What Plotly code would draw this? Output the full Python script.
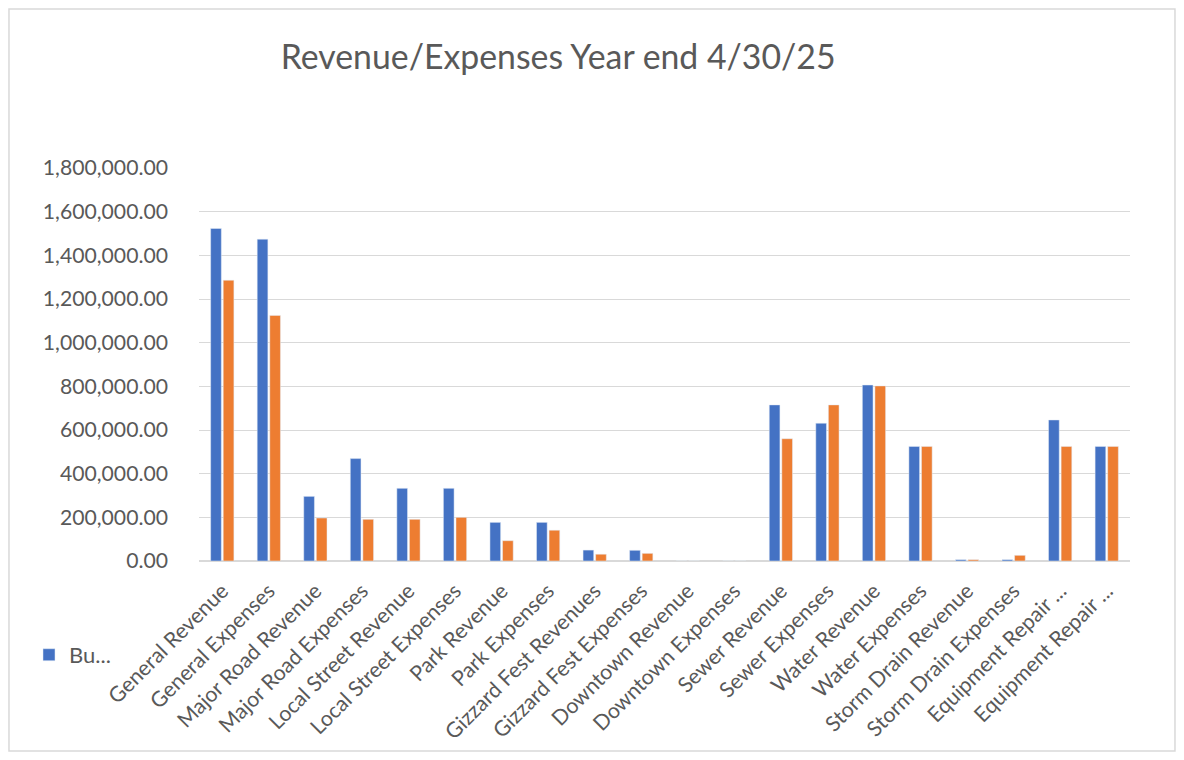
import plotly.graph_objects as go

categories = [
    "General Revenue", "General Expenses", "Major Road Revenue", "Major Road Expenses",
    "Local Street Revenue", "Local Street Expenses", "Park Revenue", "Park Expenses",
    "Gizzard Fest Revenues", "Gizzard Fest Expenses", "Downtown Revenue", "Downtown Expenses",
    "Sewer Revenue", "Sewer Expenses", "Water Revenue", "Water Expenses",
    "Storm Drain Revenue", "Storm Drain Expenses", "Equipment Repair Revenue", "Equipment Repair Expenses",
]
tick_labels = [
    "General Revenue", "General Expenses", "Major Road Revenue", "Major Road Expenses",
    "Local Street Revenue", "Local Street Expenses", "Park Revenue", "Park Expenses",
    "Gizzard Fest Revenues", "Gizzard Fest Expenses", "Downtown Revenue", "Downtown Expenses",
    "Sewer Revenue", "Sewer Expenses", "Water Revenue", "Water Expenses",
    "Storm Drain Revenue", "Storm Drain Expenses", "Equipment Repair ...", "Equipment Repair ...",
]
budget = [1523000, 1474000, 296000, 469000, 333000, 333000, 177000, 177000,
          50000, 49000, 0, 0, 715000, 631000, 806000, 525000, 6000, 6000, 646000, 525000]
actual = [1286000, 1125000, 197000, 191000, 191000, 200000, 93000, 141000,
          31000, 35000, 0, 0, 560000, 715000, 802000, 525000, 6000, 26000, 525000, 525000]
legend_label = "Bu..."
y_ticks = [0, 200000, 400000, 600000, 800000, 1000000, 1200000, 1400000, 1600000, 1800000]
y_tick_text = [f"{v:,.2f}" for v in y_ticks]

fig = go.Figure()
fig.add_trace(go.Bar(x=categories, y=budget, name=legend_label, marker_color="#4472C4",
                     showlegend=True))
fig.add_trace(go.Bar(x=categories, y=actual, name="Actual", marker_color="#ED7D31",
                     showlegend=False))

font_family = "Lato, Open Sans, sans-serif"
fig.update_layout(
    width=1168, height=744,
    margin=dict(l=191, r=46, t=160, b=191, autoexpand=False),
    paper_bgcolor="white", plot_bgcolor="white",
    barmode="group", bargap=0.46, bargroupgap=0.15,
    title=dict(text="Revenue/Expenses Year end 4/30/25", x=0.471, xanchor="center",
               y=0.934, yanchor="middle",
               font=dict(family=font_family, size=33.8, color="#595959")),
    font=dict(family=font_family, color="#595959"),
    legend=dict(x=-0.1826, xanchor="left", y=-0.239, yanchor="middle", itemwidth=30,
                font=dict(size=22, color="#595959"), bgcolor="rgba(0,0,0,0)"),
    xaxis=dict(tickvals=categories, ticktext=tick_labels, tickangle=-45, automargin=False,
               tickfont=dict(size=21.3, color="#595959"), showgrid=False,
               showline=True, linecolor="#D9D9D9", ticks="", ticklabelstandoff=8),
    yaxis=dict(range=[0, 1800000], tickvals=y_ticks, ticktext=y_tick_text, automargin=False,
               tickfont=dict(size=21.2, color="#595959"), showgrid=True,
               gridcolor="#D9D9D9", gridwidth=1, zeroline=True, zerolinecolor="#D9D9D9",
               ticks="", ticklabelstandoff=30),
    shapes=[dict(type="rect", xref="paper", yref="paper",
                 x0=-0.2041, x1=1.0483, y0=-0.4835, y1=1.4046,
                 line=dict(color="#D9D9D9", width=1.5), fillcolor="rgba(0,0,0,0)")],
)

fig.write_html("out.html")
